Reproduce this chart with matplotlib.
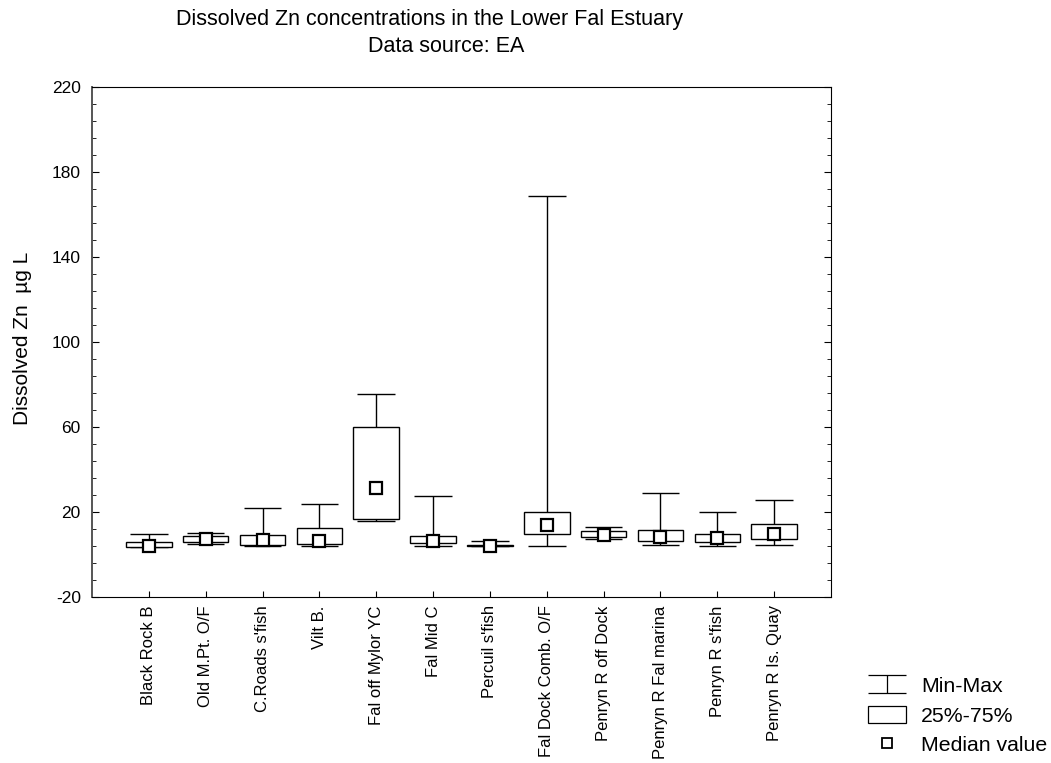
import matplotlib.pyplot as plt
from matplotlib.path import Path
from matplotlib.lines import Line2D
from matplotlib.patches import Patch

plt.rcParams['font.family'] = ['Liberation Sans', 'DejaVu Sans']
plt.rcParams['axes.unicode_minus'] = False

sites = ["Black Rock B", "Old M.Pt. O/F", "C.Roads s'fish", "Vilt B.",
         "Fal off Mylor YC", "Fal Mid C", "Percuil s'fish", "Fal Dock Comb. O/F",
         "Penryn R off Dock", "Penryn R Fal marina", "Penryn R s'fish",
         "Penryn R Is. Quay"]
mins = [3.7, 5.1, 3.8, 3.8, 15.6, 3.8, 3.8, 3.8, 7.3, 4.5, 3.8, 4.4]
q1 = [3.7, 5.9, 4.5, 4.8, 16.7, 5.6, 3.9, 9.6, 8.1, 6.4, 5.7, 7.3]
medians = [4.2, 7.4, 6.8, 6.5, 31.1, 6.5, 3.9, 13.7, 9.3, 8.4, 7.8, 9.8]
q3 = [5.9, 8.7, 9.2, 12.6, 59.8, 8.7, 4.3, 20.0, 11.2, 11.4, 9.5, 14.2]
maxs = [9.5, 10.0, 21.7, 23.6, 75.5, 27.7, 6.5, 168.7, 12.9, 28.8, 19.8, 25.8]

fig = plt.figure(figsize=(10.51, 7.63), dpi=100)
ax = fig.add_axes([0.0875, 0.2176, 0.7032, 0.6684])

pos = list(range(1, len(sites) + 1))
# whiskers first so boxes sit on top
ax.vlines(pos, q3, maxs, color='black', lw=1)
ax.vlines(pos, mins, q1, color='black', lw=1)
ax.hlines(maxs, [p - 0.33 for p in pos], [p + 0.33 for p in pos], color='black', lw=1)
ax.hlines(mins, [p - 0.33 for p in pos], [p + 0.33 for p in pos], color='black', lw=1)
ax.bar(pos, [b - a for a, b in zip(q1, q3)], bottom=q1, width=0.8,
       facecolor='white', edgecolor='black', lw=1, zorder=3)
ax.plot(pos, medians, 's', ms=8, mfc='white', mec='black', mew=1.6, zorder=4)

ax.set_xlim(0, 13)
ax.set_ylim(-20, 220)
ax.set_yticks(range(-20, 221, 40))
ax.set_yticks(range(-20, 221, 8), minor=True)
ax.set_xticks(pos)
ax.set_xticklabels(sites, rotation=90, fontsize=12)
ax.tick_params(axis='y', which='both', direction='in', right=True, labelsize=12.5, pad=8)
ax.tick_params(axis='y', which='major', length=5)
ax.tick_params(axis='y', which='minor', length=3)
ax.tick_params(axis='x', direction='in', length=4, pad=6)
ax.spines['left'].set_color('#555555')
ax.spines['left'].set_linewidth(1.4)

fig.text(23 / 1051, 1 - 338 / 763, "Dissolved Zn  µg L", rotation=90,
         ha='center', va='center', fontsize=15)
fig.text(430 / 1051, 1 - 19 / 763, "Dissolved Zn concentrations in the Lower Fal Estuary",
         ha='center', va='center', fontsize=15.5)
fig.text(446 / 1051, 1 - 47 / 763, "Data source: EA",
         ha='center', va='center', fontsize=15.5)

# legend
ibeam = Path([(-1, 0.5), (1, 0.5), (0, 0.5), (0, -0.5), (-1, -0.5), (1, -0.5)],
             [Path.MOVETO, Path.LINETO, Path.MOVETO, Path.LINETO, Path.MOVETO, Path.LINETO])
handles = [
    Line2D([], [], marker=ibeam, ms=27, color='black', mew=0.9, linestyle='none'),
    Patch(facecolor='white', edgecolor='black', lw=0.9),
    Line2D([], [], marker='s', ms=7.5, mfc='white', mec='black', mew=1.3, linestyle='none'),
]
fig.legend(handles, ["Min-Max", "25%-75%", "Median value"], loc='upper left',
           bbox_to_anchor=(0.826, 0.1143), frameon=False, fontsize=15.3, borderpad=0,
           borderaxespad=0, handlelength=1.78, handleheight=0.9, labelspacing=0.45,
           handletextpad=0.7)

fig.savefig("out.png", dpi=100)
